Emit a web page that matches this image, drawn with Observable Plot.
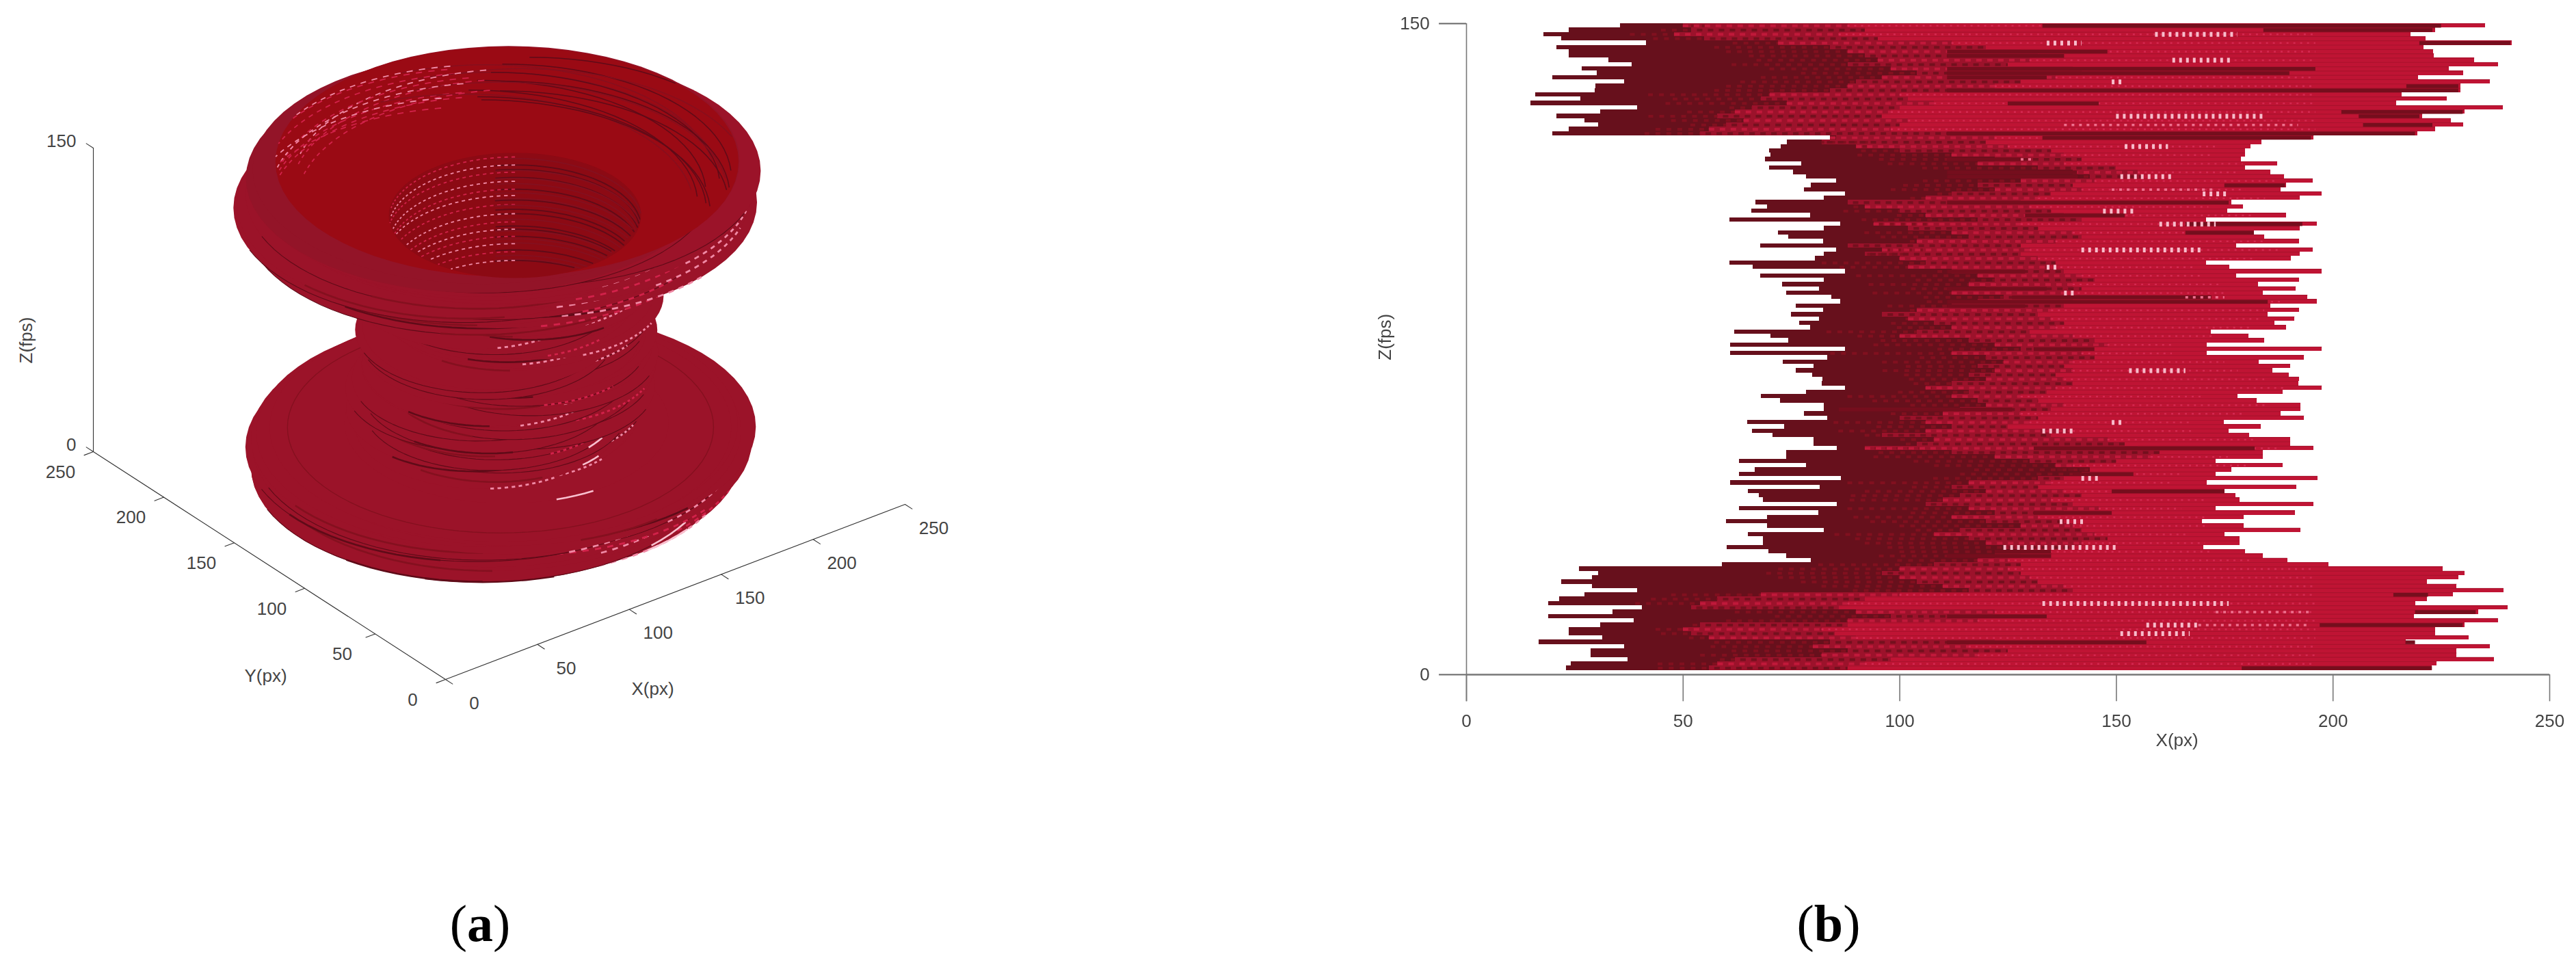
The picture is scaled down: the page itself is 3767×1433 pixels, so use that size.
<!DOCTYPE html>
<html><head><meta charset="utf-8">
<script src="https://cdn.jsdelivr.net/npm/d3@7"></script>
<script src="https://cdn.jsdelivr.net/npm/@observablehq/plot@0.6"></script>
<style>
html,body{margin:0;padding:0;background:#fff;width:3767px;height:1433px;overflow:hidden;position:relative}
#a,#b{position:absolute;top:0}
#a{left:0}#b{left:1880px}
#b svg{filter:blur(.7px)}
.cap{position:absolute;top:1300px;font:76px "Liberation Serif";color:#000;transform:translateX(-50%);white-space:nowrap;line-height:100px}
</style></head><body>
<div id="a"></div><div id="b"></div>
<div class="cap" style="left:702px">(<b>a</b>)</div>
<div class="cap" style="left:2674px">(<b>b</b>)</div>
<script>
// Left and right extent of the shape per frame row, top row (z=150) first
const leftEdge = [
35.5,23.7,17.8,21.9,41.5,20.8,23.7,23.7,32.8,38.2,
26.7,30.2,19.9,36.4,29.9,29.6,16,26.4,14.8,39.5,
31,20.8,27.3,30.5,23.7,19.9,85.4,74,72.6,69.9,
70.3,69,77.3,69.9,75.5,78.5,85.4,79.6,78,87.5,
82.5,66.7,69.4,65.8,79.4,60.8,86.3,82.5,71.9,74.4,
82.4,67.9,85.4,82.5,80.5,60.8,66.2,87.5,67.9,82.5,
72.9,81.4,73.8,84.3,86.3,76,82.4,75,81.4,76.8,
79.4,61.9,70.3,74.4,60.9,87.5,60.9,83.4,73,80.2,
76.1,79.8,82.2,82,87.5,78.4,68,72.5,82.5,82.5,
78,83.4,64.8,73.4,65.9,70.7,80.2,80.2,85.5,73.9,
73.9,63,78.4,66.6,63,86.5,61,81.6,65,67.5,
68.5,85.5,63,81.3,69.4,59.9,69.4,82.5,65,68.5,
68.5,60.1,69.8,73.9,79.5,59,26,30.5,29,21.9,
29,39.4,27.3,21.4,19,40.5,33.7,19,38.6,31,
23.7,23.7,31.4,16.7,36.4,28.7,28.7,37.3,24.2,23];
const rightEdge = [
235.2,223.6,218,221.4,241.3,220.9,223.2,223.4,232.7,238.1,
226.8,230.1,219.7,236.3,229.5,229.5,215.9,226.3,214.7,239.3,
230.4,220.7,227.2,230.1,223.6,219.5,195.6,183.5,181,179.7,
179.7,178.8,187.2,179.7,185.6,188.8,195.4,189.2,187.9,197.4,
192.4,176.6,179.3,175.7,189.2,170.7,196.3,192.4,181.8,184.2,
192.2,177.7,195.4,192.4,190.3,170.7,176.1,197.4,177.7,192.2,
182.7,191.5,183.8,194.2,196.3,185.6,192.2,184.9,191.2,186.5,
189.2,171.9,180.6,184.2,170.9,197.5,170.9,193.4,183,190.2,
186.1,189.8,192.2,192,197.5,188.4,178,182.5,192.5,192.5,
188,193.4,174.8,183.4,175.9,180.7,190.2,190.2,195.5,183.9,
183.9,173,188.4,176.6,173,196.5,171,191.6,175,177.5,
178.5,195.5,173,191.3,179.4,169.9,179.4,192.5,175,178.5,
178.5,170.1,179.8,183.9,189.5,199,225.4,230.4,229,221.8,
228.6,239.4,227.7,221.8,219,240.4,233.6,218.8,238.1,230.4,
223.6,223.6,231.3,216.8,236.3,228.6,228.6,237.2,224,222.9];
// Estimated Y centre of each frame row (panel a)
const centreY = [
132,134,131,130,125,131,127,129,133,126,
130,128,134,125,130,131,135,128,136,125,
132,135,129,133,136,134,132,128,124,130,
126,122,129,133,127,120,125,131,128,123,
119,127,132,124,129,135,122,126,130,121,
128,134,125,120,127,131,123,129,135,126,
122,128,132,124,120,127,133,129,123,126,
131,121,128,134,125,130,122,127,119,129,
133,124,128,135,126,121,130,127,123,132,
128,120,125,131,127,122,134,129,124,128,
121,130,126,133,123,128,132,120,127,131,
125,129,122,134,126,130,123,128,121,132,
127,124,130,126,129,125,125,127,123,129,
131,126,124,132,128,135,129,133,127,136,
130,128,134,126,131,137,129,133,135,134];
// x where the shadowed maroon side ends, and where the full red begins (panel b)
const darkEnd = [
50,52,48,55,72,84,88,92,95,88,
98,104,96,90,88,84,70,68,74,66,
62,58,64,60,56,54,84,82,90,100,
112,122,118,132,140,144,128,118,122,112,
106,88,92,100,106,118,94,102,112,116,
104,88,96,92,100,106,102,112,118,122,
116,120,112,124,118,112,104,96,102,108,
112,104,100,116,122,128,112,120,124,118,
122,116,120,112,106,116,112,118,120,114,
110,100,106,112,106,96,108,104,92,112,
122,130,136,144,142,132,116,112,120,114,
110,106,116,122,112,120,128,114,108,116,
120,124,128,122,118,108,100,96,100,104,
110,116,68,58,54,52,90,98,88,54,
50,52,56,84,80,88,82,62,58,56];
const redStart = [
88,92,86,95,112,120,128,132,130,125,
140,142,136,128,122,126,100,102,108,100,
98,96,102,100,98,112,122,120,125,135,
138,142,138,150,155,156,145,140,142,135,
132,128,130,135,138,142,128,132,140,142,
136,128,130,128,132,136,134,138,142,145,
140,142,138,146,140,138,135,132,135,138,
136,130,140,145,148,140,142,145,140,138,
140,136,138,140,136,134,128,132,138,135,
128,132,130,125,140,135,148,152,155,160,
158,150,140,136,142,138,135,132,138,142,
135,140,146,138,132,138,140,142,145,148,
142,140,130,128,125,128,125,128,130,132,
138,140,100,92,88,86,122,128,118,88,
82,85,90,122,116,125,118,98,92,88];
// Dark streaks across a row: row, x from, x to
const streakRow  = [0,1,4,6,7,10,11,12,14,15,18,20,21,23,25,26,31,34,35,37,41,44,46,48,57,61,63,64,65,75,89,98,104,108,113,122,123,132,136,137,139,143,143,149];
const streakFrom = [133,184,220,111,111,111,111,111,217,111,125,202,206,207,111,133,111,111,111,175,111,129,166,166,111,111,126,111,111,131,86,131,140,149,131,122,111,214,219,111,197,111,219,179];
const streakTo   = [225,223,241,148,138,196,190,134,229,229,146,230,220,223,219,195,128,141,141,189,176,152,193,182,129,134,172,185,129,145,126,182,154,176,149,135,135,222,233,134,230,157,227,223];
// Bright specular clusters in the side view: row, x from, x to
const glintRow  = [2,4,8,13,21,28,35,39,43,46,52,56,62,80,92,94,105,115,121,134,139,141];
const glintFrom = [159,134,163,149,150,152,151,170,147,160,142,134,138,153,149,133,142,137,124,133,157,151];
const glintTo   = [178,142,177,152,184,162,163,176,154,173,170,137,141,166,152,140,146,143,150,176,169,167];
const softRow  = [23,38,63,136,139,31];
const softFrom = [138,149,166,173,169,128];
const softTo   = [192,173,175,195,195,131];
// Panel a, position along the front of a ring (0 left end, .5 nearest, 1 right end)
const aShadeRow  = [8,12,16,19,21,23,24,25,29,31,34,37,41,45,49,53,57,61,65,69,73,78,83,87,92,96,100,104,108,111,115,118,120,122,124,128,131,133,135,137,139,141,143,145,147,149];
const aShadeFrom = [.3,.35,.25,.3,.2,.4,.3,.45,.27,.3,.35,.4,.3,.35,.3,.4,.28,.35,.4,.32,.25,.3,.22,.35,.28,.24,.2,.3,.25,.26,.28,.3,.32,.36,.4,.6,.55,.2,.15,.2,.12,.18,.3,.2,.35,.42];
const aShadeTo   = [.6,.65,.55,.62,.5,.75,.7,.72,.5,.55,.6,.62,.5,.7,.5,.7,.45,.6,.66,.5,.42,.55,.4,.6,.5,.44,.4,.56,.52,.5,.6,.62,.68,.7,.72,.72,.75,.5,.42,.45,.35,.5,.5,.5,.6,.6];
const aGlintRow  = [5,7,9,11,13,15,17,19,20,22,24,33,36,40,44,48,52,55,60,64,67,70,75,80,85,90,94,98,102,106,110,113,117,119,121,123,130,134,136,138,140,142,144,146,148];
const aGlintFrom = [.72,.66,.75,.6,.7,.58,.62,.55,.68,.56,.6,.55,.6,.58,.62,.55,.65,.56,.6,.62,.55,.66,.58,.6,.56,.64,.58,.62,.55,.6,.64,.56,.6,.66,.52,.55,.7,.62,.74,.55,.66,.58,.7,.55,.5];
const aGlintTo   = [.9,.88,.92,.82,.9,.8,.92,.78,.94,.9,.85,.72,.8,.76,.84,.78,.85,.8,.76,.86,.7,.84,.8,.85,.76,.88,.82,.86,.8,.84,.9,.8,.86,.9,.7,.78,.95,.9,.96,.8,.92,.86,.95,.85,.7];
const aBurstRow  = [8,11,14,112,118,122,124,125,137,140,143,146];
const aBurstFrom = [.86,.8,.82,.78,.74,.66,.62,.6,.84,.8,.76,.72];
const aBurstTo   = [.93,.88,.9,.84,.8,.74,.7,.68,.9,.86,.84,.8];
// Interior landmarks of panel a: rim opening and neck hole (x, y, radius)
const rimHole = [134.4,131.7,100];
const neckHole = [137.4,130,54.5];
// Axes
const ticks3d = [0,50,100,150,200,250];
const zTicks = [0,150];
const xTicksB = [0,50,100,150,200,250];

const rows = d3.range(150);
const rowTop = i => 150 - i*0.9933;

// ---------- panel a: linear axonometric view of the same rows ----------
const proj = (x,y,z) => [651 + 2.688*x - 2.06*y, 993 - 1.024*x - 1.332*y - 2.96*z];
const SIDE="#9b1329", RIM="#931428", INNER="#9a0a14", DEEP="#8c0a14", DARK="#5f0b18", MID="#84101f", PINK="#f08aa6", LIGHT="#d2224a", BURST="#f9c0cf";
const TH0 = 142.5*Math.PI/180; // screen-left end of a ring, t=0; front at .5; right at 1; back to 2
const ringPt = (cx,cy,R,z,t) => { const th = TH0 + t*Math.PI; return proj(cx+R*Math.cos(th), cy+R*Math.sin(th), z); };
const S = [];
let sid = 0;
function addSeries(pts, f, k, w){ sid++; pts.forEach(p => S.push({u:p[0],v:p[1],s:sid,f,k,w})); }
function arc(cx,cy,R,z,t1,t2,k,w,inside){
  const n = Math.max(2,Math.ceil(Math.abs(t2-t1)*48));
  let pts=[];
  for(let j=0;j<=n;j++){
    const p = ringPt(cx,cy,R,z,t1+(t2-t1)*j/n);
    if(!inside||inside(p)) pts.push(p); else { if(pts.length>1) addSeries(pts,"none",k,w); pts=[]; }
  }
  if(pts.length>1) addSeries(pts,"none",k,w);
}
function dotted(cx,cy,R,z,t1,t2,k,w,inside,step=.009){
  for(let t=t1;t<t2;t+=step*2) arc(cx,cy,R,z,t,Math.min(t+step,t2),k,w,inside);
}
const ellipseTest = ([x,y,r],z) => {
  const c = proj(x,y,z), rx=r*3.387, ry=r*1.68;
  return p => ((p[0]-c[0])/rx)**2+((p[1]-c[1])/ry)**2 < 1 ;
};
const cxOf = i => (leftEdge[i]+rightEdge[i])/2, rOf = i => (rightEdge[i]-leftEdge[i])/2;
// outer shell, painted from the bottom frame up
for(let i=149;i>=0;i--){
  const cx=cxOf(i), cy=centreY[i], R=rOf(i), z=rowTop(i);
  addSeries(d3.range(73).map(j=>ringPt(cx,cy,R,z,j/36)), i<3?RIM:SIDE, "none", 0);
  if(i<149 && Math.abs(cx-cxOf(i+1))+Math.abs(cy-centreY[i+1])>18 && R<140) arc(cx,cy,R,z,.12,.88,DARK,1.1);
  aShadeRow.forEach((r,q)=>{ if(r===i) arc(cx,cy,R,z,aShadeFrom[q],aShadeTo[q],q%3?MID:DARK,2.6); });
  aGlintRow.forEach((r,q)=>{ if(r===i) dotted(cx,cy,R,z,aGlintFrom[q],aGlintTo[q],q%3?PINK:LIGHT,2.8); });
  aBurstRow.forEach((r,q)=>{ if(r===i) arc(cx,cy,R,z,aBurstFrom[q],aBurstTo[q],BURST,2.6); });
  if(i===126){ // rings visible on the flat top of the lower disc
    [92,58].forEach(r=>{ arc(cx,cy,r,z,0,2,MID,1.3); });
  }
}
// rim opening and interior far wall
const [ox,oy,oR]=rimHole, [nx,ny,nR]=neckHole;
addSeries(d3.range(73).map(j=>ringPt(ox,oy,oR,rowTop(0),j/36)), INNER, "none", 0);
const inRim = ellipseTest(rimHole,rowTop(0));
for(let i=2;i<26;i+=1){
  const cx=cxOf(i), cy=centreY[i], R=rOf(i)-1, z=rowTop(i);
  if(i%4===0||i%7===0) arc(cx,cy,R,z,1.02,1.5,DARK,1.5,inRim);
  else if(i%3===0) arc(cx,cy,R,z,1.05,1.62,MID,1.3,inRim);
  if(i%2===1) dotted(cx,cy,R,z,1.55,1.92,i%3?LIGHT:PINK,1.8,inRim);
}
// neck hole and its concentric wall
addSeries(d3.range(73).map(j=>ringPt(nx,ny,nR,rowTop(27),j/36)), DEEP, "none", 0);
const inNeck = ellipseTest(neckHole,rowTop(27));
for(let i=29;i<82;i+=1){
  const R=nR-1+(leftEdge[i]%3), z=rowTop(i);
  if(i%5===0||i%3===0) arc(nx,ny,R,z,1.0,1.55,i%2?DARK:MID,1.8,inNeck);
  if(i%4===1) dotted(nx,ny,R,z,1.5,1.95,i%8===1?PINK:LIGHT,1.8,inNeck);
}
const axisLine = (a,b,key)=>[proj(...a),proj(...b)].map(p=>({u:p[0],v:p[1],key}));
const axes3d = [
  ...axisLine([0,0,0],[250,0,0],"x"), ...axisLine([0,0,0],[0,250,0],"y"), ...axisLine([0,250,0],[0,250,150],"z"),
  ...ticks3d.flatMap(t=>axisLine([t,0,0],[t,-5,0],"xt"+t)),
  ...ticks3d.flatMap(t=>axisLine([0,t,0],[-5,t,0],"yt"+t)),
  ...zTicks.flatMap(t=>axisLine([0,250,t],[0,255,t],"zt"+t)),
];
const txtA={fill:"#444",fontSize:26,fontFamily:"Liberation Sans"};
const xLab3d=ticks3d.map(t=>({t,p:proj(t,0,0)}));
const yLab3d=ticks3d.map(t=>({t,p:proj(0,t,0)}));
const zLab3d=zTicks.map(t=>({t,p:proj(0,250,t)}));
const plotA = Plot.plot({
  width:1800,height:1433,margin:0,
  x:{domain:[0,1800],range:[0,1800],axis:null},
  y:{domain:[0,1433],range:[0,1433],axis:null},
  color:{type:"identity"},
  style:{background:"transparent"},
  marks:[
    Plot.line(axes3d,{x:"u",y:"v",z:"key",stroke:"#333",strokeWidth:1.1}),
    Plot.line(S,{x:"u",y:"v",z:"s",fill:"f",stroke:"k",strokeWidth:"w",strokeLinecap:"butt",curve:"linear"}),
    Plot.text(xLab3d,{x:d=>d.p[0],y:d=>d.p[1],text:d=>String(d.t),dx:42,dy:35,...txtA}),
    Plot.text(yLab3d,{x:d=>d.p[0],y:d=>d.p[1],text:d=>String(d.t),dx:-48,dy:30,...txtA}),
    Plot.text(zLab3d,{x:d=>d.p[0],y:d=>d.p[1],text:d=>String(d.t),dx:-25,dy:-10,textAnchor:"end",...txtA}),
    Plot.text(["X(px)"],{x:()=>954,y:()=>1007,...txtA}),
    Plot.text(["Y(px)"],{x:()=>388,y:()=>988,...txtA}),
    Plot.text(["Z(fps)"],{x:()=>38,y:()=>497,rotate:-90,...txtA}),
  ]
});
document.getElementById("a").append(plotA);

// ---------- panel b: side view ----------
const rowRect=(x2of,fill)=>Plot.rect(rows,{x1:i=>leftEdge[i],x2:x2of,y1:i=>rowTop(i+1),y2:i=>rowTop(i),fill,shapeRendering:"crispEdges"});
const rowMid=i=>rowTop(i)-0.5;
const even=rows.filter(i=>i%2===0), odd=rows.filter(i=>i%2===1);
const txtB={fill:"#444",fontSize:26,fontFamily:"Liberation Sans"};
const plotB = Plot.plot({
  width:1887,height:1433,
  marginLeft:264,marginRight:39,marginTop:34,marginBottom:447,
  x:{domain:[0,250],axis:null},
  y:{domain:[0,150],axis:null},
  style:{background:"transparent"},
  marks:[
    rowRect(i=>rightEdge[i],"#bf1434"),
    rowRect(i=>Math.min(redStart[i],rightEdge[i]),"#9c122b"),
    rowRect(i=>Math.min(darkEnd[i],rightEdge[i]),"#67101c"),
    // mottled mosaic: shadow side, then the transition, then the lit side
    Plot.ruleY(even,{y:rowMid,x1:i=>Math.max(leftEdge[i]+20,darkEnd[i]-28),x2:i=>darkEnd[i],stroke:"#81101f",strokeWidth:4,strokeDasharray:"7 9"}),
    Plot.ruleY(odd,{y:rowMid,x1:i=>Math.max(leftEdge[i]+20,darkEnd[i]-28),x2:i=>darkEnd[i],stroke:"#81101f",strokeWidth:4,strokeDasharray:"7 9",strokeDashoffset:8}),
    Plot.ruleY(even,{y:rowMid,x1:i=>darkEnd[i],x2:i=>redStart[i],stroke:"#c0193a",strokeWidth:4,strokeDasharray:"8 8"}),
    Plot.ruleY(odd,{y:rowMid,x1:i=>darkEnd[i],x2:i=>redStart[i],stroke:"#74101e",strokeWidth:4,strokeDasharray:"8 8",strokeDashoffset:8}),
    Plot.ruleY(even,{y:rowMid,x1:i=>redStart[i],x2:i=>Math.min(196,rightEdge[i]-8),stroke:"#d9305a",strokeWidth:2.4,strokeDasharray:"3 7",strokeOpacity:.75}),
    Plot.ruleY(rows,{y:i=>rowTop(i),x1:i=>redStart[i],x2:i=>rightEdge[i],stroke:"#8a0f22",strokeWidth:1.2,strokeOpacity:.4}),
    // streaks and glints
    Plot.ruleY(streakRow,{y:rowMid,x1:(r,q)=>streakFrom[q],x2:(r,q)=>Math.min(streakTo[q],rightEdge[r]),stroke:"#750e1d",strokeWidth:5.5}),
    Plot.ruleY(softRow,{y:rowMid,x1:(r,q)=>softFrom[q],x2:(r,q)=>softTo[q],stroke:"#ee6f8d",strokeWidth:3.5,strokeDasharray:"4 7"}),
    Plot.ruleY(glintRow,{y:rowMid,x1:(r,q)=>glintFrom[q],x2:(r,q)=>glintTo[q],stroke:"#f8bccb",strokeWidth:7,strokeDasharray:"4 6"}),
    // axes
    Plot.ruleY(zTicks,{x1:-6.3,x2:0,stroke:"#666",strokeWidth:2}),
    Plot.ruleY([0],{x1:0,x2:250,stroke:"#777",strokeWidth:2.5}),
    Plot.ruleX([0],{y1:-6.2,y2:150,stroke:"#777",strokeWidth:1.6}),
    Plot.ruleX(xTicksB,{y1:-6.2,y2:0,stroke:"#777",strokeWidth:1.6}),
    Plot.text(xTicksB,{x:d=>d,y:()=>-10.8,text:d=>String(d),...txtB}),
    Plot.text(zTicks,{x:()=>-8.5,y:d=>d,text:d=>String(d),textAnchor:"end",...txtB}),
    Plot.text(["X(px)"],{x:()=>164,y:()=>-15.1,...txtB}),
    Plot.text(["Z(fps)"],{x:()=>-18.8,y:()=>77.8,rotate:-90,...txtB}),
  ]
});
document.getElementById("b").append(plotB);
</script>
</body></html>
